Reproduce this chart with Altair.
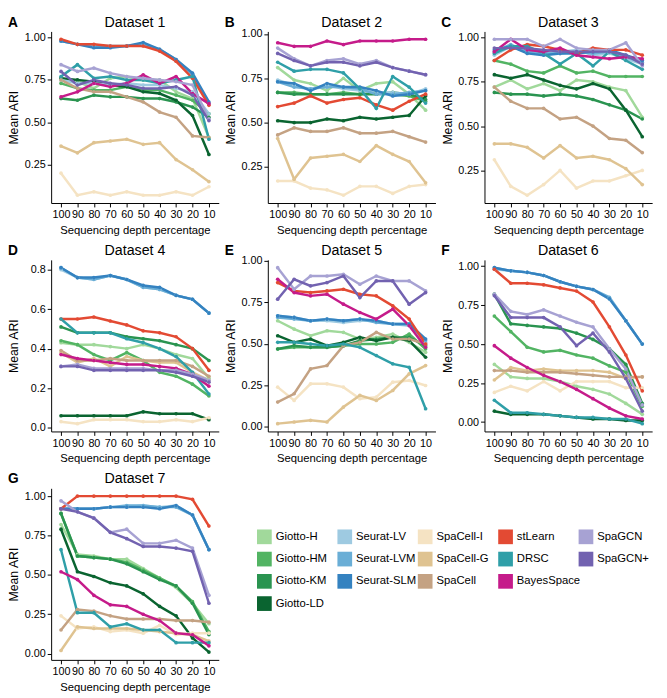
import altair as alt
import pandas as pd

depths = ["100", "90", "80", "70", "60", "50", "40", "30", "20", "10"]

# legend columns (as in the reference), flattened for the colour scale
legend_groups = [["Giotto-H", "Giotto-HM", "Giotto-KM", "Giotto-LD"],
                 ["Seurat-LV", "Seurat-LVM", "Seurat-SLM"],
                 ["SpaCell-I", "SpaCell-G", "SpaCell"],
                 ["stLearn", "DRSC", "BayesSpace"],
                 ["SpaGCN", "SpaGCN+"]]
methods = [m for g in legend_groups for m in g]
colors = ["#a1d99b", "#52b463", "#2a9450", "#0a6430",
          "#9ecae1", "#6aaed6", "#3482c0",
          "#f5e3c3", "#dfc391", "#c4a283",
          "#e34a33", "#2f9fa8", "#c51b8a",
          "#a7a2d3", "#7262b0"]

dataset1 = {
    "Giotto-H":   [0.76, 0.74, 0.70, 0.76, 0.77, 0.75, 0.75, 0.68, 0.64, 0.41],
    "Giotto-HM":  [0.73, 0.70, 0.69, 0.69, 0.71, 0.69, 0.69, 0.66, 0.63, 0.55],
    "Giotto-KM":  [0.64, 0.63, 0.66, 0.65, 0.65, 0.64, 0.64, 0.62, 0.59, 0.53],
    "Giotto-LD":  [0.76, 0.75, 0.74, 0.72, 0.71, 0.68, 0.67, 0.63, 0.54, 0.31],
    "Seurat-LV":  [0.75, 0.73, 0.73, 0.72, 0.73, 0.72, 0.72, 0.70, 0.68, 0.55],
    "Seurat-LVM": [0.98, 0.96, 0.95, 0.95, 0.95, 0.96, 0.93, 0.87, 0.78, 0.61],
    "Seurat-SLM": [0.98, 0.96, 0.94, 0.94, 0.95, 0.97, 0.93, 0.87, 0.79, 0.62],
    "SpaCell-I":  [0.20, 0.07, 0.09, 0.07, 0.09, 0.07, 0.07, 0.09, 0.07, 0.12],
    "SpaCell-G":  [0.36, 0.32, 0.38, 0.39, 0.40, 0.37, 0.38, 0.28, 0.22, 0.15],
    "SpaCell":    [0.75, 0.70, 0.68, 0.68, 0.65, 0.62, 0.56, 0.53, 0.42, 0.41],
    "stLearn":    [0.99, 0.96, 0.96, 0.95, 0.95, 0.95, 0.92, 0.86, 0.76, 0.60],
    "DRSC":       [0.77, 0.84, 0.76, 0.77, 0.75, 0.75, 0.73, 0.75, 0.77, 0.40],
    "BayesSpace": [0.65, 0.68, 0.73, 0.71, 0.73, 0.78, 0.73, 0.77, 0.67, 0.61],
    "SpaGCN":     [0.84, 0.80, 0.82, 0.79, 0.77, 0.76, 0.75, 0.74, 0.72, 0.52],
    "SpaGCN+":    [0.80, 0.72, 0.75, 0.73, 0.72, 0.70, 0.70, 0.71, 0.66, 0.51],
}

dataset2 = {
    "Giotto-H":   [0.81, 0.74, 0.72, 0.68, 0.75, 0.68, 0.72, 0.73, 0.66, 0.57],
    "Giotto-HM":  [0.67, 0.67, 0.66, 0.66, 0.67, 0.66, 0.67, 0.66, 0.65, 0.62],
    "Giotto-KM":  [0.67, 0.66, 0.66, 0.66, 0.66, 0.66, 0.66, 0.67, 0.66, 0.63],
    "Giotto-LD":  [0.51, 0.50, 0.50, 0.52, 0.51, 0.53, 0.52, 0.53, 0.54, 0.65],
    "Seurat-LV":  [0.74, 0.71, 0.69, 0.71, 0.69, 0.68, 0.67, 0.67, 0.66, 0.69],
    "Seurat-LVM": [0.73, 0.70, 0.69, 0.70, 0.70, 0.69, 0.66, 0.66, 0.67, 0.68],
    "Seurat-SLM": [0.73, 0.72, 0.68, 0.72, 0.70, 0.70, 0.68, 0.65, 0.66, 0.68],
    "SpaCell-I":  [0.17, 0.17, 0.13, 0.12, 0.09, 0.14, 0.14, 0.10, 0.14, 0.15],
    "SpaCell-G":  [0.41, 0.18, 0.30, 0.31, 0.32, 0.28, 0.37, 0.32, 0.28, 0.16],
    "SpaCell":    [0.43, 0.47, 0.45, 0.45, 0.47, 0.44, 0.44, 0.45, 0.42, 0.39],
    "stLearn":    [0.59, 0.61, 0.65, 0.61, 0.63, 0.64, 0.60, 0.57, 0.62, 0.66],
    "DRSC":       [0.84, 0.79, 0.80, 0.80, 0.78, 0.69, 0.58, 0.76, 0.70, 0.61],
    "BayesSpace": [0.95, 0.93, 0.93, 0.96, 0.94, 0.96, 0.96, 0.96, 0.97, 0.97],
    "SpaGCN":     [0.92, 0.86, 0.82, 0.85, 0.86, 0.83, 0.85, 0.81, 0.79, 0.77],
    "SpaGCN+":    [0.89, 0.85, 0.82, 0.84, 0.84, 0.82, 0.84, 0.81, 0.79, 0.77],
}

dataset3 = {
    "Giotto-H":   [0.72, 0.76, 0.71, 0.74, 0.70, 0.76, 0.75, 0.72, 0.70, 0.55],
    "Giotto-HM":  [0.87, 0.85, 0.81, 0.80, 0.84, 0.80, 0.81, 0.78, 0.78, 0.78],
    "Giotto-KM":  [0.69, 0.68, 0.68, 0.67, 0.68, 0.67, 0.65, 0.62, 0.59, 0.54],
    "Giotto-LD":  [0.79, 0.77, 0.79, 0.76, 0.73, 0.71, 0.74, 0.71, 0.59, 0.44],
    "Seurat-LV":  [0.90, 0.95, 0.93, 0.91, 0.92, 0.93, 0.90, 0.91, 0.88, 0.85],
    "Seurat-LVM": [0.92, 0.96, 0.92, 0.91, 0.91, 0.92, 0.91, 0.92, 0.89, 0.86],
    "Seurat-SLM": [0.93, 0.95, 0.91, 0.90, 0.91, 0.91, 0.92, 0.93, 0.90, 0.87],
    "SpaCell-I":  [0.31, 0.16, 0.11, 0.17, 0.25, 0.15, 0.19, 0.19, 0.22, 0.25],
    "SpaCell-G":  [0.40, 0.40, 0.38, 0.32, 0.39, 0.32, 0.33, 0.31, 0.26, 0.17],
    "SpaCell":    [0.72, 0.64, 0.60, 0.60, 0.54, 0.55, 0.50, 0.43, 0.42, 0.35],
    "stLearn":    [0.87, 0.93, 0.96, 0.95, 0.93, 0.91, 0.94, 0.93, 0.93, 0.90],
    "DRSC":       [0.91, 0.95, 0.95, 0.91, 0.85, 0.91, 0.84, 0.92, 0.87, 0.82],
    "BayesSpace": [0.92, 0.99, 0.93, 0.92, 0.94, 0.90, 0.89, 0.88, 0.89, 0.88],
    "SpaGCN":     [0.99, 0.99, 0.99, 0.95, 0.99, 0.94, 0.93, 0.93, 0.97, 0.84],
    "SpaGCN+":    [0.94, 0.94, 0.94, 0.93, 0.92, 0.92, 0.92, 0.92, 0.90, 0.85],
}

dataset4 = {
    "Giotto-H":   [0.43, 0.42, 0.42, 0.41, 0.40, 0.42, 0.40, 0.37, 0.35, 0.25],
    "Giotto-HM":  [0.44, 0.42, 0.37, 0.34, 0.38, 0.34, 0.28, 0.26, 0.22, 0.16],
    "Giotto-KM":  [0.51, 0.48, 0.48, 0.48, 0.46, 0.45, 0.44, 0.42, 0.40, 0.34],
    "Giotto-LD":  [0.06, 0.06, 0.06, 0.06, 0.06, 0.08, 0.07, 0.07, 0.07, 0.04],
    "Seurat-LV":  [0.80, 0.76, 0.75, 0.77, 0.75, 0.71, 0.70, 0.67, 0.65, 0.58],
    "Seurat-LVM": [0.81, 0.76, 0.75, 0.77, 0.75, 0.71, 0.70, 0.67, 0.65, 0.58],
    "Seurat-SLM": [0.81, 0.76, 0.76, 0.77, 0.75, 0.72, 0.71, 0.67, 0.65, 0.58],
    "SpaCell-I":  [0.03, 0.02, 0.04, 0.04, 0.04, 0.03, 0.03, 0.04, 0.03, 0.05],
    "SpaCell-G":  [0.38, 0.33, 0.35, 0.31, 0.36, 0.34, 0.33, 0.33, 0.28, 0.24],
    "SpaCell":    [0.39, 0.34, 0.34, 0.35, 0.34, 0.34, 0.34, 0.34, 0.31, 0.26],
    "stLearn":    [0.55, 0.55, 0.56, 0.54, 0.52, 0.49, 0.48, 0.46, 0.40, 0.29],
    "DRSC":       [0.55, 0.48, 0.48, 0.48, 0.45, 0.43, 0.40, 0.36, 0.28, 0.17],
    "BayesSpace": [0.37, 0.35, 0.34, 0.33, 0.32, 0.32, 0.31, 0.30, 0.27, 0.21],
    "SpaGCN":     [0.31, 0.32, 0.30, 0.30, 0.30, 0.30, 0.29, 0.29, 0.27, 0.24],
    "SpaGCN+":    [0.31, 0.31, 0.29, 0.29, 0.29, 0.29, 0.29, 0.28, 0.26, 0.23],
}

dataset5 = {
    "Giotto-H":   [0.64, 0.59, 0.55, 0.58, 0.57, 0.53, 0.54, 0.56, 0.51, 0.45],
    "Giotto-HM":  [0.47, 0.48, 0.48, 0.48, 0.49, 0.50, 0.50, 0.51, 0.56, 0.47],
    "Giotto-KM":  [0.47, 0.49, 0.48, 0.48, 0.49, 0.52, 0.53, 0.54, 0.54, 0.49],
    "Giotto-LD":  [0.55, 0.51, 0.53, 0.49, 0.51, 0.54, 0.52, 0.54, 0.52, 0.42],
    "Seurat-LV":  [0.67, 0.66, 0.64, 0.64, 0.63, 0.64, 0.64, 0.62, 0.61, 0.51],
    "Seurat-LVM": [0.66, 0.65, 0.64, 0.65, 0.64, 0.65, 0.63, 0.62, 0.62, 0.52],
    "Seurat-SLM": [0.67, 0.66, 0.64, 0.65, 0.64, 0.65, 0.64, 0.62, 0.62, 0.53],
    "SpaCell-I":  [0.24, 0.16, 0.26, 0.26, 0.24, 0.17, 0.18, 0.27, 0.28, 0.25],
    "SpaCell-G":  [0.02, 0.03, 0.04, 0.03, 0.12, 0.19, 0.16, 0.22, 0.32, 0.37],
    "SpaCell":    [0.15, 0.20, 0.35, 0.37, 0.49, 0.51, 0.57, 0.53, 0.53, 0.50],
    "stLearn":    [0.87, 0.82, 0.81, 0.82, 0.83, 0.80, 0.79, 0.73, 0.65, 0.50],
    "DRSC":       [0.51, 0.51, 0.50, 0.49, 0.50, 0.48, 0.43, 0.38, 0.36, 0.11],
    "BayesSpace": [0.89, 0.81, 0.79, 0.80, 0.74, 0.69, 0.65, 0.71, 0.61, 0.48],
    "SpaGCN":     [0.96, 0.83, 0.91, 0.91, 0.92, 0.86, 0.91, 0.88, 0.88, 0.82],
    "SpaGCN+":    [0.77, 0.89, 0.85, 0.87, 0.91, 0.78, 0.88, 0.88, 0.74, 0.81],
}

dataset6 = {
    "Giotto-H":   [0.37, 0.29, 0.28, 0.28, 0.26, 0.23, 0.21, 0.18, 0.12, 0.05],
    "Giotto-HM":  [0.68, 0.58, 0.48, 0.45, 0.46, 0.43, 0.41, 0.36, 0.32, 0.10],
    "Giotto-KM":  [0.82, 0.63, 0.62, 0.61, 0.60, 0.57, 0.53, 0.47, 0.37, 0.12],
    "Giotto-LD":  [0.07, 0.05, 0.05, 0.05, 0.04, 0.03, 0.02, 0.02, 0.01, 0.01],
    "Seurat-LV":  [0.98, 0.97, 0.96, 0.94, 0.90, 0.87, 0.85, 0.79, 0.65, 0.50],
    "Seurat-LVM": [0.99, 0.97, 0.96, 0.94, 0.90, 0.87, 0.85, 0.80, 0.65, 0.50],
    "Seurat-SLM": [0.99, 0.97, 0.96, 0.94, 0.90, 0.87, 0.85, 0.79, 0.65, 0.50],
    "SpaCell-I":  [0.19, 0.23, 0.20, 0.26, 0.20, 0.26, 0.26, 0.26, 0.22, 0.22],
    "SpaCell-G":  [0.27, 0.35, 0.33, 0.34, 0.33, 0.33, 0.33, 0.32, 0.28, 0.29],
    "SpaCell":    [0.33, 0.33, 0.32, 0.32, 0.32, 0.31, 0.30, 0.29, 0.29, 0.29],
    "stLearn":    [0.98, 0.89, 0.89, 0.88, 0.86, 0.84, 0.77, 0.61, 0.43, 0.20],
    "DRSC":       [0.14, 0.06, 0.06, 0.05, 0.04, 0.03, 0.03, 0.02, 0.02, -0.01],
    "BayesSpace": [0.49, 0.41, 0.35, 0.30, 0.26, 0.21, 0.15, 0.09, 0.04, 0.02],
    "SpaGCN":     [0.82, 0.71, 0.69, 0.72, 0.68, 0.64, 0.61, 0.47, 0.34, 0.11],
    "SpaGCN+":    [0.81, 0.67, 0.67, 0.67, 0.61, 0.49, 0.57, 0.45, 0.28, 0.07],
}

dataset7 = {
    "Giotto-H":   [0.82, 0.63, 0.62, 0.60, 0.60, 0.54, 0.48, 0.42, 0.32, 0.19],
    "Giotto-HM":  [0.89, 0.62, 0.61, 0.60, 0.58, 0.53, 0.48, 0.43, 0.33, 0.14],
    "Giotto-KM":  [0.89, 0.62, 0.61, 0.60, 0.57, 0.52, 0.47, 0.43, 0.32, 0.12],
    "Giotto-LD":  [0.79, 0.52, 0.49, 0.45, 0.43, 0.38, 0.30, 0.24, 0.10, 0.01],
    "Seurat-LV":  [0.92, 0.92, 0.92, 0.93, 0.93, 0.94, 0.93, 0.94, 0.88, 0.66],
    "Seurat-LVM": [0.92, 0.92, 0.92, 0.93, 0.94, 0.94, 0.93, 0.93, 0.88, 0.66],
    "Seurat-SLM": [0.92, 0.92, 0.92, 0.93, 0.93, 0.93, 0.92, 0.94, 0.88, 0.66],
    "SpaCell-I":  [0.24, 0.16, 0.17, 0.14, 0.15, 0.13, 0.18, 0.12, 0.13, 0.13],
    "SpaCell-G":  [0.02, 0.17, 0.16, 0.16, 0.16, 0.15, 0.14, 0.13, 0.12, 0.08],
    "SpaCell":    [0.15, 0.28, 0.27, 0.24, 0.22, 0.22, 0.22, 0.21, 0.21, 0.20],
    "stLearn":    [0.92, 1.00, 1.00, 1.00, 1.00, 1.00, 1.00, 1.00, 0.98, 0.81],
    "DRSC":       [0.66, 0.26, 0.26, 0.17, 0.19, 0.15, 0.15, 0.07, 0.07, 0.07],
    "BayesSpace": [0.52, 0.47, 0.37, 0.31, 0.30, 0.25, 0.21, 0.13, 0.12, 0.05],
    "SpaGCN":     [0.97, 0.90, 0.86, 0.77, 0.79, 0.70, 0.70, 0.72, 0.67, 0.37],
    "SpaGCN+":    [0.92, 0.90, 0.86, 0.77, 0.73, 0.68, 0.68, 0.67, 0.65, 0.32],
}

datasets = [dataset1, dataset2, dataset3, dataset4, dataset5, dataset6, dataset7]
titles = ["Dataset 1", "Dataset 2", "Dataset 3", "Dataset 4",
          "Dataset 5", "Dataset 6", "Dataset 7"]
letters = ["A", "B", "C", "D", "E", "F", "G"]
tick_quarter = [0.0, 0.25, 0.5, 0.75, 1.0]
tick_fifth = [0.0, 0.2, 0.4, 0.6, 0.8, 1.0]

FONT = "Liberation Sans"
W, H = 171, 175
color_scale = alt.Scale(domain=methods, range=colors)


def panel(i):
    d = datasets[i]
    rows = []
    for m in methods:
        for dep, v in zip(depths, d[m]):
            rows.append({"method": m, "depth": dep, "ari": v})
    df = pd.DataFrame(rows)
    lo, hi = df["ari"].min(), df["ari"].max()
    pad = 0.05 * (hi - lo)
    if i == 3:
        ticks, fmt = tick_fifth, ".1f"
    else:
        ticks, fmt = tick_quarter, ".2f"
    ticks = [t for t in ticks if lo - pad <= t <= hi + pad]
    lines = alt.Chart(df).mark_line(
        strokeWidth=2.5,
        point=alt.OverlayMarkDef(filled=True, size=14, opacity=1),
    ).encode(
        x=alt.X("depth:O", sort=depths, scale=alt.Scale(padding=0.6),
                axis=alt.Axis(title="Sequencing depth percentage", labelAngle=0,
                              labelOverlap=False)),
        y=alt.Y("ari:Q",
                scale=alt.Scale(domain=[lo - pad, hi + pad], nice=False, zero=False),
                axis=alt.Axis(title="Mean ARI", values=ticks, format=fmt,
                              minExtent=28, maxExtent=28)),
        color=alt.Color("method:N", scale=color_scale, legend=None),
    )
    letter = alt.Chart(pd.DataFrame({"lab": [letters[i]]})).mark_text(
        fontWeight="bold", fontSize=14, align="left", baseline="middle",
        font=FONT, color="black",
    ).encode(text="lab:N", x=alt.value(-44), y=alt.value(-9))
    title = alt.Chart(pd.DataFrame({"lab": [titles[i]]})).mark_text(
        fontSize=14.5, align="center", baseline="middle",
        font=FONT, color="black",
    ).encode(text="lab:N", x=alt.value(W / 2), y=alt.value(-9))
    return alt.layer(lines, letter, title).properties(width=W, height=H)


# custom legend: one column per method family, as in the reference
leg_rows = []
for c, grp in enumerate(legend_groups):
    for r, m in enumerate(grp):
        leg_rows.append({"method": m, "col": c, "row": r})
leg_df = pd.DataFrame(leg_rows)
LW, LH = 410, H
leg_x = alt.X("col:Q", scale=alt.Scale(domain=[0, 5], nice=False, zero=False), axis=None)
leg_y = alt.Y("row:Q", scale=alt.Scale(domain=[-2.18, 5.53], nice=False, zero=False,
                                       reverse=True), axis=None)
swatches = alt.Chart(leg_df).mark_square(size=225, opacity=1, xOffset=7.5).encode(
    x=leg_x, y=leg_y,
    color=alt.Color("method:N", scale=color_scale, legend=None),
)
labels = alt.Chart(leg_df).mark_text(
    align="left", baseline="middle", dx=19, fontSize=11.5, font=FONT, color="black",
).encode(x=leg_x, y=leg_y, text="method:N")
legend_chart = alt.layer(swatches, labels).properties(width=LW, height=LH)

panels = [panel(i) for i in range(7)]
row1 = alt.hconcat(*panels[0:3], spacing=6).resolve_scale(
    x="independent", y="independent")
row2 = alt.hconcat(*panels[3:6], spacing=6).resolve_scale(
    x="independent", y="independent")
row3 = alt.hconcat(panels[6], legend_chart, spacing=39).resolve_scale(
    x="independent", y="independent")

chart = alt.vconcat(row1, row2, row3, spacing=7).resolve_scale(
    x="independent", y="independent"
).properties(padding=0).configure_view(stroke=None).configure_axis(
    grid=False, domainColor="black", tickColor="black", labelColor="black",
    titleColor="black", labelFont=FONT, titleFont=FONT, labelFontSize=11,
    titleFontSize=12, titleFontWeight="normal", tickSize=4, domainWidth=1,
    labelPadding=2,
).configure_axisY(titleFontSize=12.5, titlePadding=3).configure_axisX(
    titlePadding=5, titleFontSize=11.5
)

chart.save("out.html", embed_options={"renderer": "svg", "actions": False})
